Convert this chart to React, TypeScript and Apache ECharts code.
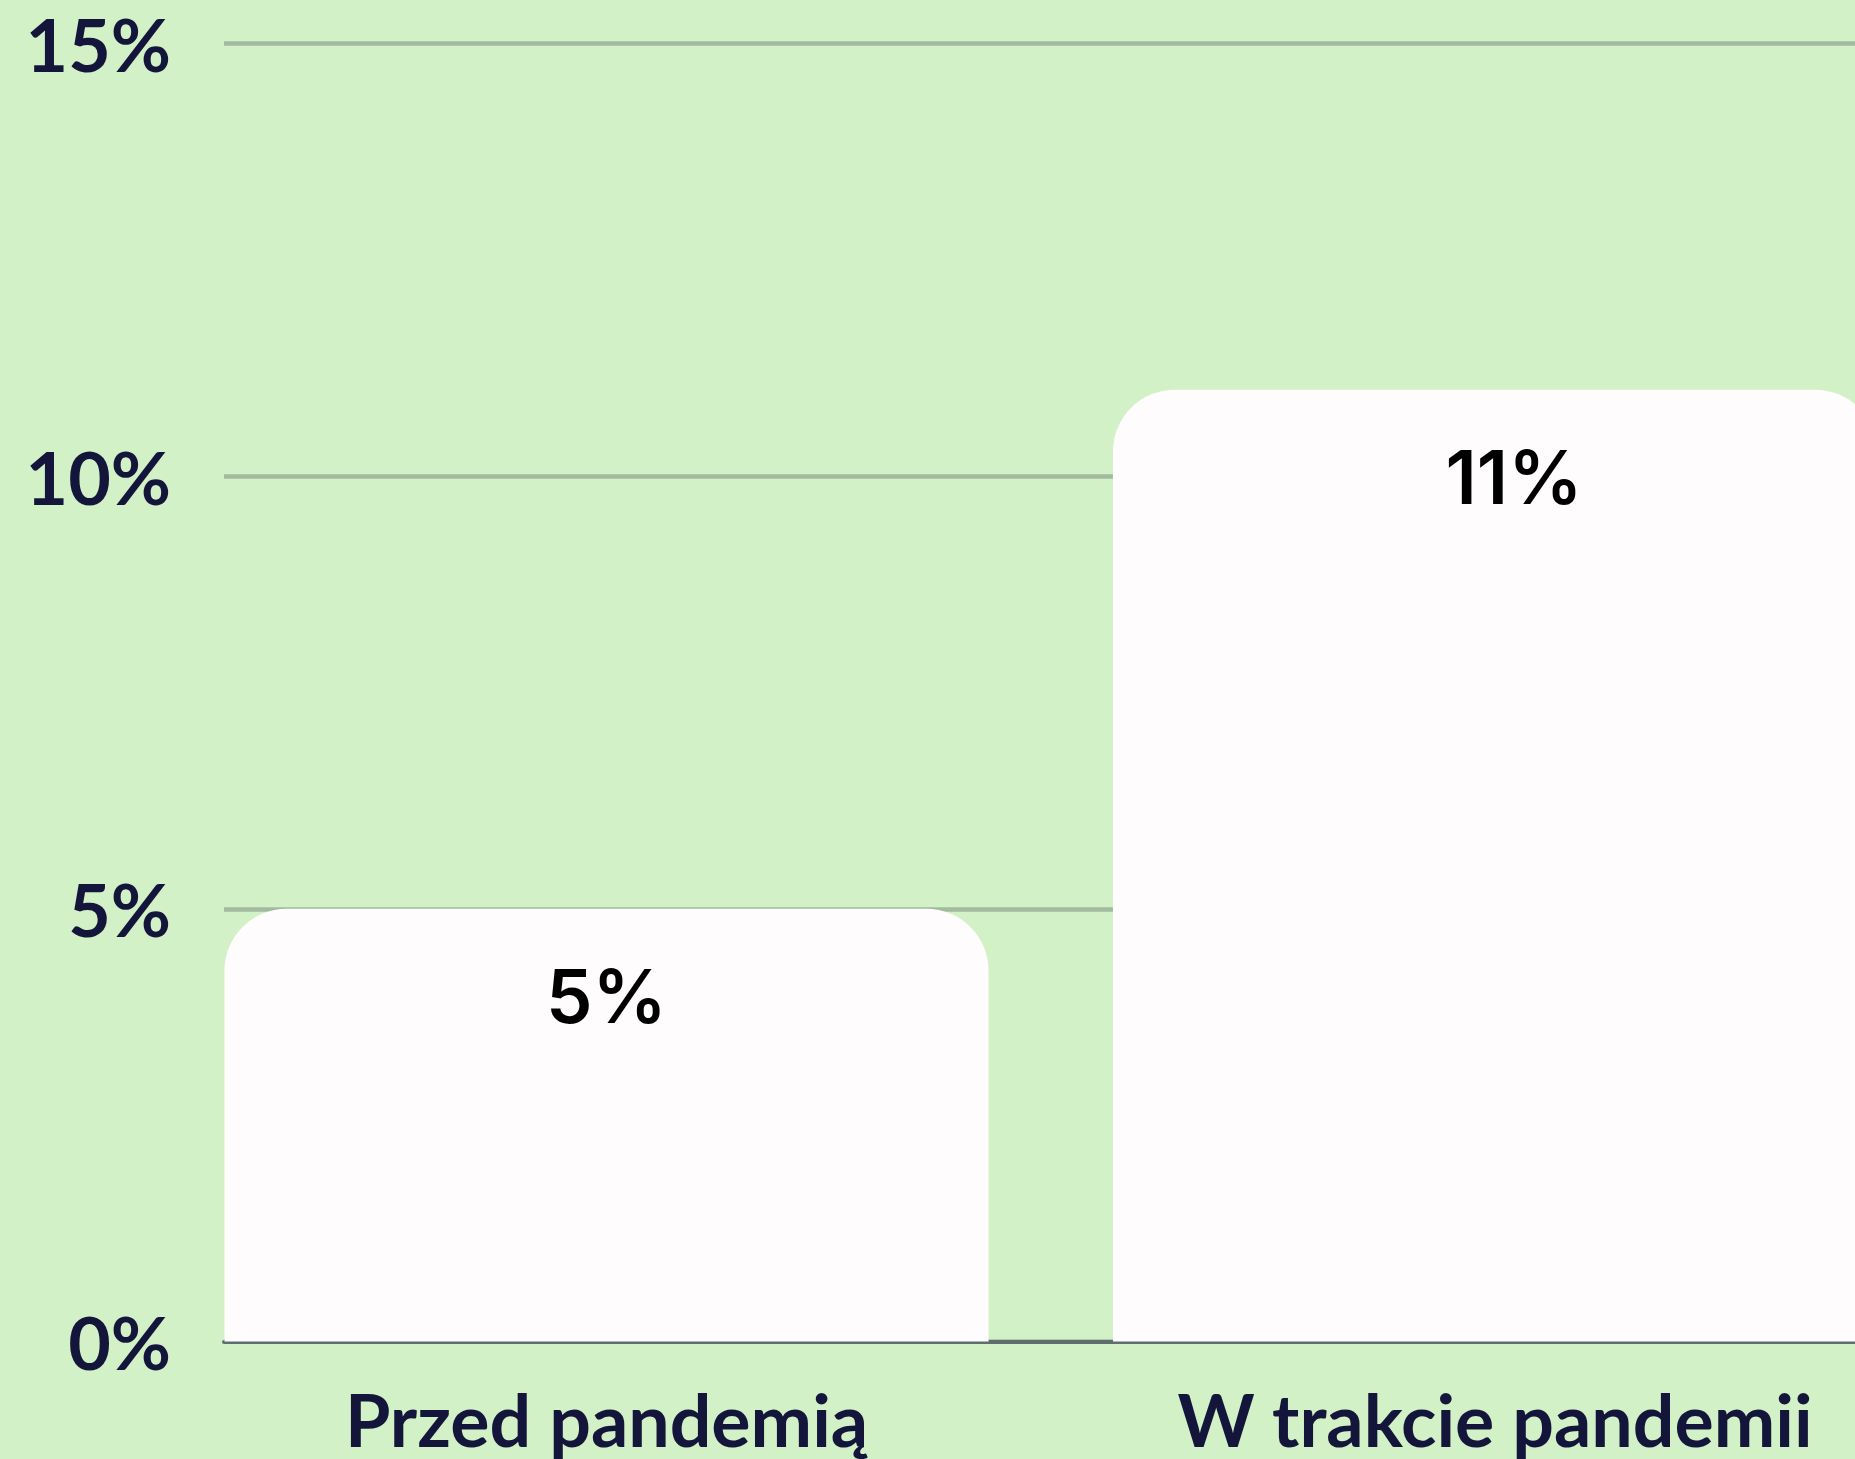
import React, { useEffect, useRef } from "react";
import * as echarts from "echarts";

const categories = ["Przed pandemią", "W trakcie pandemii"];
const values = [5, 11];
const yMin = 0;
const yMax = 15;
const yStep = 5;

const NAVY = "#13163a";

export default function App() {
  const ref = useRef<HTMLDivElement>(null);
  useEffect(() => {
    if (!ref.current) return;
    const chart = echarts.init(ref.current, null, { renderer: "svg" });
    const top = 43.5;
    const bottom = 117.5;
    const valueLabelShift = [0, 19];
    chart.setOption({
      animation: false,
      backgroundColor: "#d3f1c6",
      grid: [
        { left: 162.25, width: 1777, top, bottom, outerBoundsMode: "none", containLabel: false },
        { left: 224, right: 0, top, bottom, outerBoundsMode: "none", containLabel: false },
      ],
      xAxis: [
        {
          type: "category",
          gridIndex: 0,
          data: categories,
          axisLine: { show: false },
          axisTick: { show: false },
          axisLabel: {
            margin: 40,
            fontFamily: "Lato",
            fontWeight: "bold",
            fontSize: 73.5,
            lineHeight: 74,
            color: NAVY,
          },
        },
        {
          type: "value",
          gridIndex: 1,
          min: 0,
          max: 1,
          axisLine: { show: true, lineStyle: { color: "#5e6d6d", width: 4 } },
          axisTick: { show: false },
          axisLabel: { show: false },
          splitLine: { show: false },
        },
      ],
      yAxis: [
        {
          type: "value",
          gridIndex: 0,
          min: yMin,
          max: yMax,
          interval: yStep,
          show: false,
          splitLine: { show: false },
        },
        {
          type: "value",
          gridIndex: 1,
          min: yMin,
          max: yMax,
          interval: yStep,
          axisLine: { show: false },
          axisTick: { show: false },
          axisLabel: {
            formatter: "{value}%",
            margin: 53,
            fontFamily: "Lato",
            fontWeight: "bold",
            fontSize: 73.5,
            lineHeight: 74,
            color: NAVY,
          },
          splitLine: { show: true, lineStyle: { color: "#a2bb9f", width: 4.5 } },
        },
      ],
      series: [
        {
          type: "bar",
          xAxisIndex: 0,
          yAxisIndex: 0,
          data: values.map((v, i) => ({ value: v, label: { offset: [valueLabelShift[i], 0] } })),
          barCategoryGap: "14%",
          itemStyle: { color: "#fffcfd", borderRadius: [62, 62, 0, 0] },
          label: {
            show: true,
            position: "insideTop",
            distance: 50,
            formatter: "{c}%",
            fontFamily: "Inter",
            fontWeight: 600,
            fontSize: 74,
            lineHeight: 74,
            color: "#000000",
          },
        },
      ],
    });
    return () => chart.dispose();
  }, []);
  return (
    <div
      ref={ref}
      style={{ position: "absolute", left: 0, top: 0, width: 1855, height: 1459, background: "#d3f1c6" }}
    />
  );
}
